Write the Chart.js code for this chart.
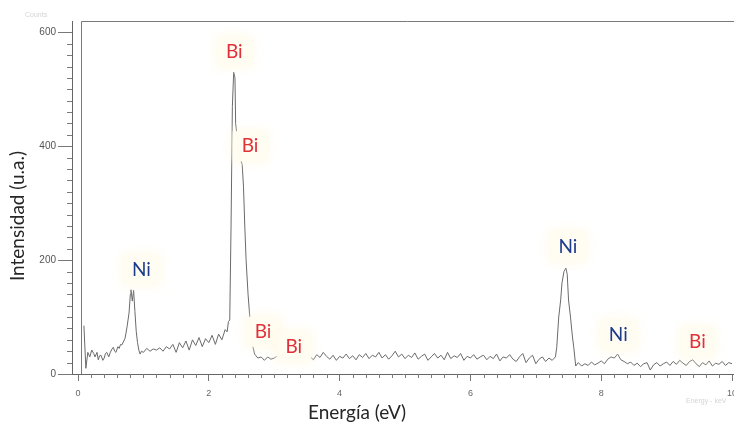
<!DOCTYPE html>
<html>
<head>
<meta charset="utf-8">
<script src="https://cdn.jsdelivr.net/npm/chart.js@4.4.1/dist/chart.umd.min.js"></script>
<style>
  html, body { margin: 0; padding: 0; background: #fff; }
  #wrap { width: 734px; height: 428px; position: relative; }
</style>
</head>
<body>
<div id="wrap"><canvas id="chartEDS" width="734" height="428"></canvas></div>
<script>
// Espectro EDS: energía (eV) y cuentas por canal
const energia = [
  0.09, 0.12, 0.15, 0.18, 0.21, 0.24, 0.26, 0.29, 0.31, 0.33, 0.35, 0.38, 0.40, 0.42, 0.44, 0.47, 0.49,
  0.52, 0.54, 0.56, 0.58, 0.61, 0.63, 0.65, 0.67, 0.70, 0.72, 0.75, 0.78, 0.80, 0.81, 0.83, 0.85, 0.87,
  0.89, 0.91, 0.93, 0.95, 0.97,
  1.00, 1.05, 1.10, 1.15, 1.20, 1.25, 1.30, 1.35, 1.40, 1.45, 1.50, 1.55, 1.60, 1.65, 1.70, 1.75, 1.80,
  1.85, 1.90, 1.95, 2.00, 2.05, 2.10, 2.15, 2.20, 2.25,
  2.28, 2.30, 2.32, 2.34, 2.36, 2.38, 2.40, 2.41, 2.43, 2.46, 2.49, 2.51, 2.53, 2.55, 2.57, 2.60, 2.63,
  2.66, 2.70, 2.75, 2.80, 2.85, 2.90, 2.95, 3.00,
  3.05, 3.10, 3.15, 3.20, 3.25, 3.30, 3.35, 3.40, 3.45, 3.50, 3.55, 3.60, 3.65, 3.70, 3.75, 3.80, 3.85,
  3.90, 3.95, 4.00, 4.05, 4.10, 4.15, 4.20, 4.25, 4.30, 4.35, 4.40, 4.45, 4.50, 4.55, 4.60, 4.65, 4.70,
  4.75, 4.80, 4.85, 4.90, 4.95, 5.00, 5.05, 5.10, 5.15, 5.20, 5.25, 5.30, 5.35, 5.40, 5.45, 5.50, 5.55,
  5.60, 5.65, 5.70, 5.75, 5.80, 5.85, 5.90, 5.95, 6.00, 6.05, 6.10, 6.15, 6.20, 6.25, 6.30, 6.35, 6.40,
  6.45, 6.50, 6.55, 6.60, 6.65, 6.70, 6.75, 6.80, 6.85, 6.90, 6.95, 7.00, 7.05, 7.10, 7.15, 7.20, 7.25,
  7.30, 7.32, 7.35, 7.38, 7.40, 7.43, 7.46, 7.48, 7.50, 7.53, 7.56, 7.58, 7.61,
  7.65, 7.70, 7.75, 7.80, 7.85, 7.90, 7.95, 8.00, 8.05, 8.10, 8.15, 8.20, 8.25, 8.30, 8.35, 8.40, 8.45,
  8.50, 8.55, 8.60, 8.65, 8.70, 8.75, 8.80, 8.85, 8.90, 8.95, 9.00, 9.05, 9.10, 9.15, 9.20, 9.25, 9.30,
  9.35, 9.40, 9.45, 9.50, 9.55, 9.60, 9.65, 9.70, 9.75, 9.80, 9.85, 9.90, 9.95, 10.00
];
const cuentas = [
  85, 10, 38, 30, 42, 36, 30, 38, 25, 32, 33, 24, 28, 36, 38, 30, 37,
  44, 47, 40, 38, 48, 45, 52, 51, 58, 63, 83, 107, 140, 148, 128, 147, 110,
  75, 55, 42, 35, 40,
  38, 45, 40, 44, 42, 46, 40, 48, 44, 52, 38, 55, 46, 58, 42, 60, 50,
  64, 48, 62, 55, 68, 52, 70, 60, 78,
  74, 92, 95, 260, 470, 530, 520, 440, 420, 395, 375, 368, 330, 260, 200, 140, 95,
  55, 35, 28, 30, 24, 30, 26, 28,
  32, 27, 34, 29, 36, 30, 26, 33, 28, 35, 30, 25, 34, 29, 38, 31, 26,
  33, 24, 31, 28, 35, 27, 32, 25, 34, 29, 36, 27, 33, 30, 38, 28, 34,
  26, 32, 40, 30, 35, 27, 33, 29, 37, 26, 31, 35, 24, 30, 36, 28, 33,
  25, 38, 27, 32, 29, 36, 24, 31, 28, 34, 26, 30, 33, 25, 31, 27, 35,
  23, 30, 28, 34, 26, 22, 30, 36, 20, 28, 33, 18, 26, 30, 22, 28, 24,
  30, 47, 100, 130, 160, 180, 186, 175, 130, 100, 65, 47, 14,
  20, 14, 18, 15, 21, 16, 19, 23, 18, 26, 30, 28, 35, 25, 22, 18, 21,
  15, 19, 13, 18, 20, 7, 16, 20, 14, 18, 21, 15, 22, 17, 24, 19, 15,
  22, 25, 18, 13, 20, 16, 23, 14, 19, 17, 22, 15, 20, 18
];

// Identificación de picos
const elementos = ['Ni', 'Bi', 'Bi', 'Bi', 'Bi', 'Ni', 'Ni', 'Bi'];
const etiquetaEnergia = [0.97, 2.39, 2.63, 2.83, 3.30, 7.49, 8.26, 9.47];
const etiquetaAltura = [183, 566, 400, 74, 48, 224, 69, 56];

const ticksX = [0, 2, 4, 6, 8, 10];
const ticksY = [0, 200, 400, 600];

const colorElemento = { Bi: '#e0303a', Ni: '#1e3b8c' };

// Marco, marcas menores y títulos de ejes
const decoracion = {
  id: 'decoracion',
  afterDraw(chart) {
    const { ctx, chartArea: a, scales: { x, y } } = chart;
    ctx.save();
    ctx.strokeStyle = '#7a7a7a';
    ctx.lineWidth = 1;
    const xm = Math.round(x.getPixelForValue(0.05)) + 0.5;
    ctx.beginPath();
    ctx.moveTo(xm, a.bottom);
    ctx.lineTo(xm, a.top + 0.5);
    ctx.lineTo(a.right, a.top + 0.5);
    ctx.stroke();

    ctx.beginPath();
    for (let i = 1; i < 31; i++) {
      if (i % 10 === 0) continue;
      const py = Math.round(y.getPixelForValue(i * 20)) + 0.5;
      ctx.moveTo(a.left - 5, py);
      ctx.lineTo(a.left, py);
    }
    for (let i = 1; i < 50; i++) {
      if (i % 10 === 0) continue;
      const px = Math.round(x.getPixelForValue(i * 0.2)) + 0.5;
      ctx.moveTo(px, a.bottom);
      ctx.lineTo(px, a.bottom + 4);
    }
    ctx.stroke();

    ctx.fillStyle = '#262626';
    ctx.font = '19px Lato';
    ctx.textAlign = 'center';
    ctx.textBaseline = 'middle';
    ctx.fillText('Energía (eV)', 357, 413);
    ctx.save();
    ctx.translate(18, 216);
    ctx.rotate(-Math.PI / 2);
    ctx.fillText('Intensidad (u.a.)', 0, 0);
    ctx.restore();

    ctx.fillStyle = '#d4d4d4';
    ctx.font = '7px "Liberation Sans"';
    ctx.textAlign = 'left';
    ctx.fillText('Counts', 25, 15);
    ctx.fillText('Energy - keV', 686, 401);
    ctx.restore();
  }
};

// Etiquetas de elementos con fondo claro
const etiquetas = {
  id: 'etiquetas',
  afterDatasetsDraw(chart) {
    const { ctx, scales: { x, y } } = chart;
    ctx.save();
    ctx.font = '19px Lato';
    ctx.textAlign = 'center';
    ctx.textBaseline = 'middle';
    elementos.forEach((el, i) => {
      const px = x.getPixelForValue(etiquetaEnergia[i]);
      const py = y.getPixelForValue(etiquetaAltura[i]);
      const w = ctx.measureText(el).width + 18;
      ctx.save();
      ctx.shadowColor = 'rgba(255, 248, 222, 0.9)';
      ctx.shadowBlur = 12;
      ctx.fillStyle = 'rgba(255, 253, 243, 0.96)';
      ctx.fillRect(px - w / 2, py - 15, w, 30);
      ctx.restore();
      ctx.fillStyle = colorElemento[el];
      ctx.fillText(el, px, py);
    });
    ctx.restore();
  }
};

new Chart(document.getElementById('chartEDS'), {
  type: 'line',
  data: {
    datasets: [{
      data: energia.map((e, i) => ({ x: e, y: cuentas[i] })),
      borderColor: '#6a6a6a',
      borderWidth: 1,
      pointRadius: 0,
      tension: 0,
      fill: false
    }]
  },
  options: {
    responsive: false,
    animation: false,
    layout: { padding: { left: 0, right: 0, top: 21, bottom: 0 } },
    plugins: {
      legend: { display: false },
      tooltip: { enabled: false }
    },
    scales: {
      x: {
        type: 'linear',
        min: -0.092,
        max: 10.03,
        afterBuildTicks: s => { s.ticks = ticksX.map(v => ({ value: v })); },
        afterFit: s => { s.height = 54; s.paddingLeft = 0; s.paddingRight = 0; },
        ticks: { color: '#666', font: { family: 'Liberation Sans', size: 9 }, padding: 7, maxRotation: 0 },
        grid: { drawOnChartArea: false, tickLength: 7, color: '#777' },
        border: { color: '#666' }
      },
      y: {
        min: 0,
        max: 620,
        afterBuildTicks: s => { s.ticks = ticksY.map(v => ({ value: v })); },
        afterFit: s => { s.width = 72; },
        ticks: { color: '#555', font: { family: 'Liberation Sans', size: 10 }, padding: 2 },
        grid: { drawOnChartArea: false, tickLength: 14, color: '#777' },
        border: { color: '#666' }
      }
    }
  },
  plugins: [etiquetas, decoracion]
});
</script>
</body>
</html>
